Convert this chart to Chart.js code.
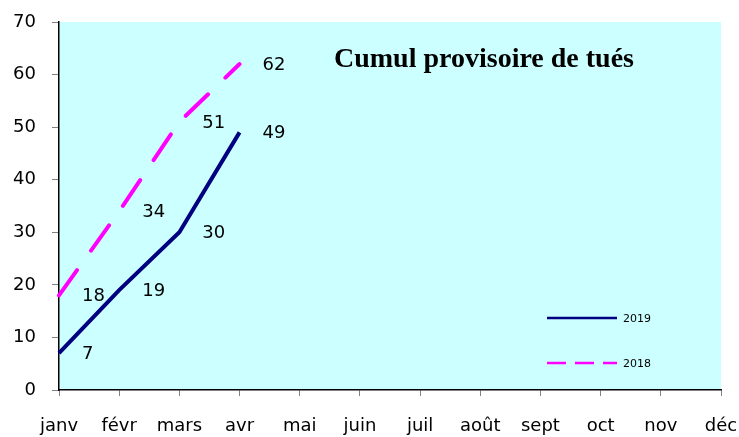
<!DOCTYPE html>
<html>
<head>
<meta charset="utf-8">
<script src="https://cdn.jsdelivr.net/npm/chart.js@4"></script>
<style>
  html, body { margin: 0; padding: 0; background: #fff; }
  #wrap { width: 739px; height: 437px; }
</style>
</head>
<body>
<div id="wrap"><canvas id="tuesChart" width="739" height="437"></canvas></div>
<script>
const months = ['janv', 'févr', 'mars', 'avr', 'mai', 'juin', 'juil', 'août', 'sept', 'oct', 'nov', 'déc'];
const tues2019 = [7, 19, 30, 49];
const tues2018 = [18, 34, 51, 62];
const yTicks = [0, 10, 20, 30, 40, 50, 60, 70];

const ctx = document.getElementById('tuesChart').getContext('2d');
const sans = '"DejaVu Sans", Arial, sans-serif';

// fond cyan de la zone de tracé
const plotBg = {
  id: 'plotBg',
  beforeDraw(chart) {
    const a = chart.chartArea;
    const c = chart.ctx;
    c.save();
    c.fillStyle = '#ccffff';
    c.fillRect(a.left, a.top, a.right - a.left, a.bottom - a.top);
    c.restore();
  }
};

// valeurs à droite des points, titre et légende dans la zone de tracé
const extras = {
  id: 'extras',
  afterDatasetsDraw(chart) {
    const c = chart.ctx;
    const a = chart.chartArea;
    c.save();
    c.font = '18px ' + sans;
    c.fillStyle = '#000';
    c.textAlign = 'left';
    c.textBaseline = 'middle';
    chart.data.datasets.forEach((ds, i) => {
      chart.getDatasetMeta(i).data.forEach((pt, j) => {
        c.fillText(String(ds.data[j]), pt.x + 23, pt.y + 1);
      });
    });

    c.font = 'bold 28px "Liberation Serif", "Times New Roman", serif';
    c.textAlign = 'center';
    c.fillText('Cumul provisoire de tués', a.left + 425, a.top + 38);

    // légende
    const lx = a.left + 488;
    const rows = [a.top + 296, a.top + 341];
    chart.data.datasets.forEach((ds, i) => {
      c.beginPath();
      c.strokeStyle = ds.borderColor;
      c.lineWidth = 2.5;
      c.setLineDash(ds.borderDash ? [19, 9] : []);
      c.moveTo(lx, rows[i]);
      c.lineTo(lx + 70, rows[i]);
      c.stroke();
      c.setLineDash([]);
      c.font = '11px ' + sans;
      c.textAlign = 'left';
      c.fillText(ds.label, lx + 76, rows[i] + 1);
    });
    c.restore();
  }
};

new Chart(ctx, {
  type: 'line',
  data: {
    labels: months,
    datasets: [{
      label: '2019',
      data: tues2019,
      borderColor: '#000080',
      borderWidth: 4,
      pointRadius: 0,
      tension: 0,
      fill: false
    }, {
      label: '2018',
      data: tues2018,
      borderColor: '#ff00ff',
      borderWidth: 4,
      borderDash: [31, 24],
      borderCapStyle: 'round',
      pointRadius: 0,
      tension: 0,
      fill: false
    }]
  },
  options: {
    responsive: false,
    animation: false,
    layout: { padding: { top: 22, right: 18, left: 0, bottom: 0 } },
    plugins: {
      legend: { display: false },
      tooltip: { enabled: false }
    },
    scales: {
      x: {
        offset: false,
        border: { color: '#000', width: 1.5 },
        grid: { drawOnChartArea: false, tickLength: 6, color: '#808080' },
        ticks: {
          color: '#000',
          autoSkip: false,
          maxRotation: 0,
          padding: 20,
          font: { family: sans, size: 18 }
        },
        afterFit(scale) {
          scale.height = 47;
          scale.paddingLeft = 0;
          scale.paddingRight = 0;
        }
      },
      y: {
        min: 0,
        max: 70,
        afterBuildTicks(scale) { scale.ticks = yTicks.map(v => ({ value: v })); },
        border: { color: '#000', width: 1.5 },
        grid: { drawOnChartArea: false, tickLength: 7, color: '#808080' },
        ticks: {
          color: '#000',
          padding: 16,
          font: { family: sans, size: 18 }
        },
        afterFit(scale) {
          scale.width = 59;
          scale.paddingTop = 0;
          scale.paddingBottom = 0;
        }
      }
    }
  },
  plugins: [plotBg, extras]
});
</script>
</body>
</html>
